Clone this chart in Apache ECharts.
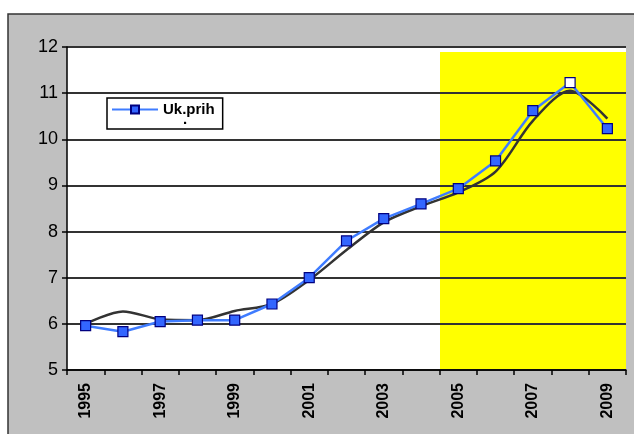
<!DOCTYPE html>
<html>
<head>
<meta charset="utf-8">
<script src="https://cdn.jsdelivr.net/npm/echarts@6/dist/echarts.min.js"></script>
<style>
html, body { margin: 0; padding: 0; background: #fff; }
#main { width: 634px; height: 434px; }
</style>
</head>
<body>
<div id="main"></div>
<script>
// data
var years = ['1995', '1996', '1997', '1998', '1999', '2000', '2001', '2002',
             '2003', '2004', '2005', '2006', '2007', '2008', '2009'];
var ukPrih = [5.96, 5.83, 6.05, 6.08, 6.08, 6.43, 7.0, 7.8, 8.28, 8.6, 8.93, 9.53, 10.62, 11.23, 10.23];
var trend = [6.0, 6.27, 6.1, 6.08, 6.28, 6.43, 6.95, 7.6, 8.2, 8.55, 8.85, 9.3, 10.4, 11.05, 10.45];
var yTicks = [5, 6, 7, 8, 9, 10, 11, 12];
var shadeFrom = '2005';
var hollowYear = '2008';

var chart = echarts.init(document.getElementById('main'));

var blueData = ukPrih.map(function (v, i) {
    if (years[i] === hollowYear) {
        return { value: v, itemStyle: { color: '#ffffff' } };
    }
    return v;
});

var option = {
    animation: false,
    backgroundColor: '#ffffff',
    graphic: [
        {
            type: 'rect',
            z: -10,
            shape: { x: 8, y: 14, width: 640, height: 440 },
            style: { fill: '#c0c0c0', stroke: '#333', lineWidth: 1.5 }
        },
        {
            type: 'rect',
            z: -9,
            shape: { x: 67, y: 47, width: 559, height: 323 },
            style: { fill: '#ffffff' }
        },
        {
            type: 'text',
            z: 20,
            left: 183,
            top: 112,
            style: { text: '.', fill: '#000', font: 'bold 15px Arial' }
        }
    ],
    grid: { left: 67, right: 8, top: 47, bottom: 64 },
    legend: {
        data: ['Uk.prih'],
        left: 107,
        top: 98,
        orient: 'vertical',
        backgroundColor: '#ffffff',
        borderColor: '#000',
        borderWidth: 1.5,
        borderRadius: 0,
        padding: [4, 8, 12, 4],
        itemWidth: 46,
        itemHeight: 10,
        itemGap: 2,
        textStyle: { color: '#000', fontWeight: 'bold', fontSize: 15, fontFamily: 'Arial' }
    },
    xAxis: {
        type: 'category',
        data: years,
        boundaryGap: true,
        axisLine: { lineStyle: { color: '#000', width: 1.5 } },
        axisTick: { show: true, interval: 0, length: 5, lineStyle: { color: '#000', width: 1.5 } },
        axisLabel: {
            interval: 1,
            rotate: 90,
            color: '#000',
            fontWeight: 'bold',
            fontSize: 16,
            fontFamily: 'Arial',
            margin: 13
        },
        splitLine: { show: false }
    },
    yAxis: {
        type: 'value',
        min: yTicks[0],
        max: yTicks[yTicks.length - 1],
        interval: 1,
        axisLine: { show: true, lineStyle: { color: '#000', width: 1.5 } },
        axisTick: { show: true, length: 5, lineStyle: { color: '#000', width: 1.5 } },
        axisLabel: { color: '#000', fontSize: 18, fontFamily: 'Arial', margin: 9 },
        splitLine: { show: true, lineStyle: { color: '#333', width: 2 } }
    },
    series: [
        {
            // only carries the yellow shading, kept under the grid lines
            name: 'shade',
            type: 'line',
            data: [],
            z: -5,
            silent: true,
            markArea: {
                silent: true,
                z: -5,
                itemStyle: { color: '#ffff00' },
                data: [[
                    { xAxis: shadeFrom, x: 440, y: 52 },
                    { xAxis: years[years.length - 1], x: 626, y: 370 }
                ]]
            }
        },
        {
            name: 'trend',
            type: 'line',
            data: trend,
            smooth: 0.3,
            symbol: 'none',
            z: 3,
            lineStyle: { color: '#333333', width: 2.5 }
        },
        {
            name: 'Uk.prih',
            type: 'line',
            data: blueData,
            symbol: 'rect',
            symbolSize: 10,
            z: 4,
            lineStyle: { color: '#3f7cff', width: 2.5 },
            itemStyle: { color: '#3366ff', borderColor: '#000080', borderWidth: 1.2 }
        }
    ]
};

chart.setOption(option);
</script>
</body>
</html>
